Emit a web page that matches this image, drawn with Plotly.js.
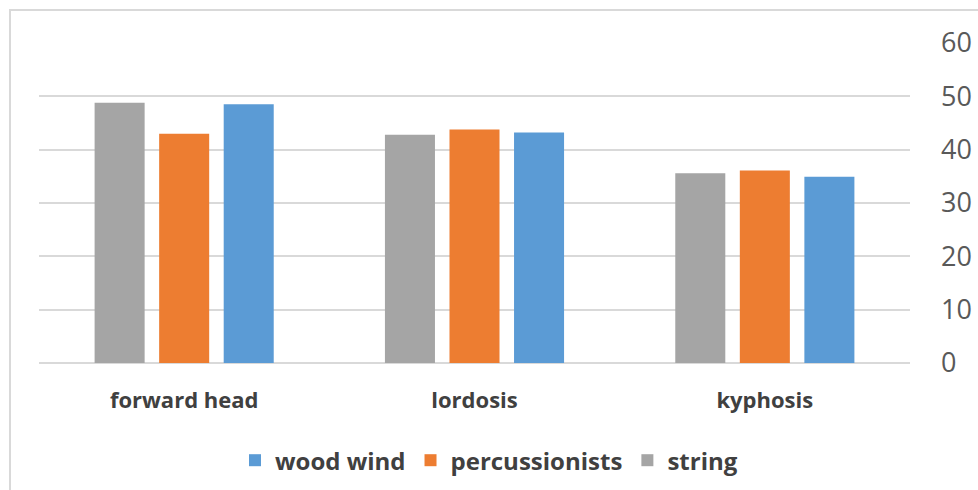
<!DOCTYPE html>
<html>
<head>
<meta charset="utf-8">
<script src="https://cdn.plot.ly/plotly-3.0.1.min.js"></script>
<style>
  html, body { margin: 0; padding: 0; background: #fff; }
  #wrap { position: relative; width: 978px; height: 490px; overflow: hidden; }
  #frame { position: absolute; left: 9px; top: 9px; width: 1100px; height: 600px; border: 2px solid #d9d9d9; box-sizing: border-box; }
  #chart { position: absolute; left: 0; top: 0; width: 978px; height: 490px; }
</style>
</head>
<body>
<div id="wrap">
  <div id="frame"></div>
  <div id="chart"></div>
</div>
<script>
const categories = ["forward head", "lordosis", "kyphosis"];
const stringVals = [48.8, 42.8, 35.6];
const percussionVals = [43.0, 43.8, 36.1];
const woodWindVals = [48.5, 43.2, 34.9];
const yTicks = [0, 10, 20, 30, 40, 50, 60];

const traces = [
  { type: 'bar', name: 'string', x: categories, y: stringVals, marker: { color: '#a5a5a5' } },
  { type: 'bar', name: 'percussionists', x: categories, y: percussionVals, marker: { color: '#ed7d31' } },
  { type: 'bar', name: 'wood wind', x: categories, y: woodWindVals, marker: { color: '#5b9bd5' } }
];

const layout = {
  width: 978, height: 490,
  paper_bgcolor: 'rgba(0,0,0,0)', plot_bgcolor: 'rgba(0,0,0,0)',
  margin: { l: 39, r: 68, t: 43, b: 127 },
  barmode: 'group', bargap: 0.333, bargroupgap: 0.225,
  showlegend: true,
  hovermode: false,
  font: { family: 'Open Sans, sans-serif', color: '#595959' },
  xaxis: {
    type: 'category',
    showgrid: false, zeroline: false, showline: false,
    ticks: '', ticklabelstandoff: 22,
    tickfont: { family: 'Open Sans, sans-serif', size: 22, color: '#404040', weight: 'bold' }
  },
  yaxis: {
    side: 'right', range: [0, 60], tickvals: yTicks,
    showgrid: true, gridcolor: '#d9d9d9', gridwidth: 2,
    zeroline: true, zerolinecolor: '#d9d9d9', zerolinewidth: 2,
    showline: false, ticks: '', ticklabelstandoff: 30,
    tickfont: { family: 'Open Sans, sans-serif', size: 27, color: '#595959' }
  },
  legend: {
    orientation: 'h', traceorder: 'reversed',
    xref: 'container', yref: 'container',
    x: 0.5, xanchor: 'center', y: 0.06, yanchor: 'middle',
    font: { family: 'Open Sans, sans-serif', size: 24, color: '#404040', weight: 'bold' },
    itemwidth: 30, tracegroupgap: 0
  }
};

Plotly.newPlot('chart', traces, layout, { displayModeBar: false, staticPlot: true });
</script>
</body>
</html>
